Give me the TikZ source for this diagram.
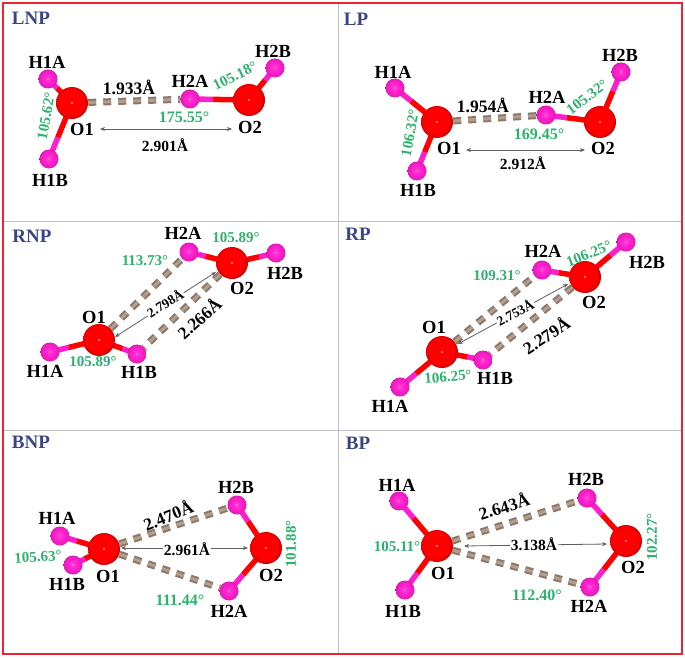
\documentclass[tikz,border=0pt]{standalone}
\usepackage{fontspec}
\setmainfont{Liberation Serif}
\usetikzlibrary{calc,backgrounds,arrows.meta}
\definecolor{frameRed}{RGB}{232,38,48}
\definecolor{panelGrey}{RGB}{190,190,196}
\definecolor{titleBlue}{RGB}{58,70,132}
\definecolor{angleGreen}{RGB}{44,178,110}
\definecolor{hbondDark}{RGB}{140,118,104}
\definecolor{hbondLight}{RGB}{178,158,140}
\definecolor{arrowGrey}{RGB}{95,95,95}
\definecolor{hPink}{RGB}{255,30,205}
\pgfdeclareradialshading{oball}{\pgfpoint{-3bp}{3bp}}{color(0bp)=(red); color(20bp)=(red); color(25bp)=(red!85!black); color(28bp)=(red!45!black); color(50bp)=(red!45!black)}
\pgfdeclareradialshading{hball}{\pgfpoint{-2bp}{2bp}}{color(0bp)=(hPink!85!white); color(14bp)=(hPink); color(24bp)=(hPink!90!black); color(27bp)=(hPink!50!black); color(50bp)=(hPink!50!black)}
\tikzset{
  x=1pt,y=-1pt,
  oatom/.style={circle,inner sep=0pt,minimum size=32pt,shading=oball,
    path picture={\fill[white!90!red] (path picture bounding box.center) circle (0.9pt);}},
  hatom/.style={circle,inner sep=0pt,minimum size=19pt,shading=hball,
    path picture={\fill[white!70!hPink] (path picture bounding box.center) circle (0.7pt);}},
  atomlab/.style={inner sep=0pt,font=\bfseries\fontsize{18.5}{20}\selectfont,text=black},
  title/.style={inner sep=0pt,font=\bfseries\fontsize{19}{20}\selectfont,text=titleBlue},
  anglab/.style={inner sep=0pt,font=\bfseries\fontsize{15}{18}\selectfont,text=angleGreen},
  anglarge/.style={inner sep=0pt,font=\bfseries\fontsize{16}{18}\selectfont,text=angleGreen},
  distbig/.style={inner sep=0pt,font=\bfseries\fontsize{17.5}{20}\selectfont,text=black},
  distmid/.style={inner sep=1pt,font=\bfseries\fontsize{15.5}{18}\selectfont,text=black},
  distsmall/.style={inner sep=1pt,font=\bfseries\fontsize{13.5}{15}\selectfont,text=black},
  bondO/.style={line width=5.5pt,red},
  bondH/.style={line width=5.5pt,hPink},
  hbondA/.style={line width=7pt,hbondDark,dash pattern=on 8pt off 7pt},
  hbondB/.style={line width=3pt,hbondLight,dash pattern=on 8pt off 7pt},
  dist/.style={arrowGrey,line width=0.8pt,{Stealth[length=5pt,width=4pt]}-{Stealth[length=5pt,width=4pt]}},
}
% \bnd{oxygen}{hydrogen}: two-tone covalent bond on the background layer
\newcommand{\bnd}[2]{\begin{pgfonlayer}{background}
  \draw[bondO] (#1.center) -- ($(#1.center)!0.62!(#2.center)$);
  \draw[bondH] ($(#1.center)!0.62!(#2.center)$) -- (#2.center);
\end{pgfonlayer}}
% \hbd{a}{b}: dashed hydrogen bond on the background layer
\newcommand{\hbd}[2]{\begin{pgfonlayer}{background}
  \draw[hbondA] (#1) -- (#2);
  \draw[hbondB] (#1) -- (#2);
\end{pgfonlayer}}
\newcommand{\dbl}[2]{\begin{pgfonlayer}{background}
  \draw[dist] (#1) -- (#2);
\end{pgfonlayer}}
\begin{document}
\begin{tikzpicture}
\useasboundingbox (0,0) rectangle (685,658);
\begin{pgfonlayer}{background}
  \fill[white] (0,0) rectangle (685,658);
  \draw[panelGrey,line width=1pt] (338,3) -- (338,654);
  \draw[panelGrey,line width=1pt] (3,221) -- (682,221);
  \draw[panelGrey,line width=1pt] (3,430) -- (682,430);
  \draw[frameRed,line width=2.4pt] (3,3) rectangle (682,654);
\end{pgfonlayer}

% ---------- LNP
\node[title] (t1) at (31,18) {LNP};
\node[oatom] (a1) at (72,103) {};
\node[oatom] (a2) at (249,100) {};
\node[hatom] (a3) at (48,79) {};
\node[hatom] (a4) at (49,159) {};
\node[hatom] (a5) at (190,99) {};
\node[hatom] (a6) at (275,68) {};
\bnd{a1}{a3}\bnd{a1}{a4}\bnd{a2}{a5}\bnd{a2}{a6}
\hbd{a1}{a5}
\coordinate (a7) at (100,129); \coordinate (a8) at (232,129);
\dbl{a7}{a8}
\node[atomlab] at (47,62) {H1A};
\node[atomlab] at (50,180) {H1B};
\node[atomlab] at (82,129) {O1};
\node[atomlab] at (190,81) {H2A};
\node[atomlab] at (250,127) {O2};
\node[atomlab] at (273,51) {H2B};
\node[distbig] at (129,87) {1.933Å};
\node[distmid] at (165,145) {2.901Å};
\node[anglarge] at (184,117) {175.55°};
\node[anglab,rotate=26] at (235,76) {105.18°};
\node[anglab,rotate=80] at (46,116) {105.62°};

% ---------- LP
\node[title] (t2) at (356,19) {LP};
\node[oatom] (b1) at (437,122) {};
\node[oatom] (b2) at (600,122) {};
\node[hatom] (b3) at (395,88) {};
\node[hatom] (b4) at (417,171) {};
\node[hatom] (b5) at (546,115) {};
\node[hatom] (b6) at (621,72) {};
\bnd{b1}{b3}\bnd{b1}{b4}\bnd{b2}{b5}\bnd{b2}{b6}
\hbd{b1}{b5}
\coordinate (b7) at (466,150); \coordinate (b8) at (585,150);
\dbl{b7}{b8}
\node[atomlab] at (393,72) {H1A};
\node[atomlab] at (418,190) {H1B};
\node[atomlab] at (449,148) {O1};
\node[atomlab] at (547,97) {H2A};
\node[atomlab] at (603,148) {O2};
\node[atomlab] at (620,55) {H2B};
\node[distbig] at (483,105) {1.954Å};
\node[distmid] at (523,163) {2.912Å};
\node[anglarge] at (539,134) {169.45°};
\node[anglab,rotate=37] at (587,97) {105.32°};
\node[anglab,rotate=80] at (410,133) {106.32°};

% ---------- RNP
\node[title] (t3) at (32,236) {RNP};
\node[oatom] (c1) at (99,340) {};
\node[oatom] (c2) at (232,263) {};
\node[hatom] (c3) at (50,352) {};
\node[hatom] (c4) at (137,354) {};
\node[hatom] (c5) at (189,252) {};
\node[hatom] (c6) at (276,253) {};
\bnd{c1}{c3}\bnd{c1}{c4}\bnd{c2}{c5}\bnd{c2}{c6}
\hbd{c1}{c5}\hbd{c2}{c4}
\coordinate (c7) at (115,337); \coordinate (c8) at (216,272);
\dbl{c7}{c8}
\node[atomlab] at (94,317) {O1};
\node[atomlab] at (45,371) {H1A};
\node[atomlab] at (139,372) {H1B};
\node[atomlab] at (183,233) {H2A};
\node[atomlab] at (285,273) {H2B};
\node[atomlab] at (242,288) {O2};
\node[distsmall,fill=white,rotate=31] at (165,303) {2.798Å};
\node[distbig,rotate=42] at (199,318) {2.266Å};
\node[anglab] at (236,238) {105.89°};
\node[anglab] at (93,362) {105.89°};
\node[anglab] at (145,261) {113.73°};

% ---------- RP
\node[title] (t4) at (358,234) {RP};
\node[oatom] (d1) at (442,352) {};
\node[oatom] (d2) at (585,277) {};
\node[hatom] (d3) at (400,387) {};
\node[hatom] (d4) at (483,360) {};
\node[hatom] (d5) at (542,270) {};
\node[hatom] (d6) at (626,242) {};
\bnd{d1}{d3}\bnd{d1}{d4}\bnd{d2}{d5}\bnd{d2}{d6}
\hbd{d1}{d5}\hbd{d2}{d4}
\coordinate (d7) at (458,344); \coordinate (d8) at (568,284);
\dbl{d7}{d8}
\node[atomlab] at (434,327) {O1};
\node[atomlab] at (390,406) {H1A};
\node[atomlab] at (495,378) {H1B};
\node[atomlab] at (543,251) {H2A};
\node[atomlab] at (647,262) {H2B};
\node[atomlab] at (594,302) {O2};
\node[distsmall,fill=white,rotate=28] at (515,312) {2.753Å};
\node[distbig,rotate=33] at (546,335) {2.279Å};
\node[anglab,rotate=22] at (589,254) {106.25°};
\node[anglab,rotate=5] at (448,377) {106.25°};
\node[anglab] at (497,276) {109.31°};

% ---------- BNP
\node[title] (t5) at (31,442) {BNP};
\node[oatom] (e1) at (104,549) {};
\node[oatom] (e2) at (266,548) {};
\node[hatom] (e3) at (60,536) {};
\node[hatom] (e4) at (73,565) {};
\node[hatom] (e5) at (229,591) {};
\node[hatom] (e6) at (237,505) {};
\bnd{e1}{e3}\bnd{e1}{e4}\bnd{e2}{e5}\bnd{e2}{e6}
\hbd{e1}{e5}\hbd{e1}{e6}
\coordinate (e7) at (121,548); \coordinate (e8) at (248,548);
\dbl{e7}{e8}
\node[atomlab] at (57,518) {H1A};
\node[atomlab] at (67,584) {H1B};
\node[atomlab] at (108,576) {O1};
\node[atomlab] at (236,487) {H2B};
\node[atomlab] at (271,575) {O2};
\node[atomlab] at (229,611) {H2A};
\node[distbig,rotate=22] at (168,515) {2.470Å};
\node[distmid,fill=white] at (187,549) {2.961Å};
\node[anglab,rotate=3] at (38,557) {105.63°};
\node[anglarge] at (180,600) {111.44°};
\node[anglab,rotate=90] at (291,544) {101.88°};

% ---------- BP
\node[title] (t6) at (358,443) {BP};
\node[oatom] (f1) at (437,546) {};
\node[oatom] (f2) at (626,541) {};
\node[hatom] (f3) at (399,501) {};
\node[hatom] (f4) at (405,590) {};
\node[hatom] (f5) at (590,587) {};
\node[hatom] (f6) at (587,498) {};
\bnd{f1}{f3}\bnd{f1}{f4}\bnd{f2}{f5}\bnd{f2}{f6}
\hbd{f1}{f5}\hbd{f1}{f6}
\coordinate (f7) at (464,546); \coordinate (f8) at (607,544);
\dbl{f7}{f8}
\node[atomlab] at (397,485) {H1A};
\node[atomlab] at (403,611) {H1B};
\node[atomlab] at (443,573) {O1};
\node[atomlab] at (586,479) {H2B};
\node[atomlab] at (633,567) {O2};
\node[atomlab] at (589,606) {H2A};
\node[distbig,rotate=17] at (504,506) {2.643Å};
\node[distmid,fill=white] at (534,544) {3.138Å};
\node[anglab] at (397,547) {105.11°};
\node[anglarge] at (537,595) {112.40°};
\node[anglab,rotate=90] at (652,537) {102.27°};
\end{tikzpicture}
\end{document}
